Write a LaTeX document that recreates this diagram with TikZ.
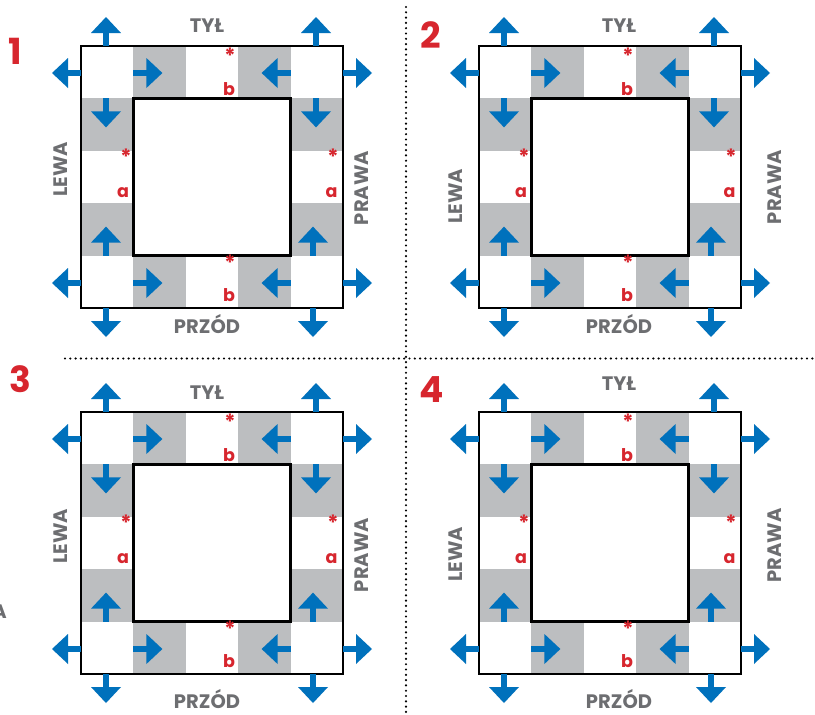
\documentclass[tikz,border=0pt]{standalone}
\usepackage{fontspec}
\setmainfont{Poppins}
\definecolor{arrblue}{HTML}{0071BC}
\definecolor{cellgray}{HTML}{BCBEC0}
\definecolor{txtgray}{HTML}{6D6E71}
\definecolor{numred}{HTML}{D7262E}
\tikzset{
  arrR/.pic={\fill[arrblue] (0,-3) rectangle (13.5,3); \fill[arrblue] (13,-15) -- (29,0) -- (13,15) -- cycle;},
  arrL/.pic={\fill[arrblue] (0,-3) rectangle (-13.5,3); \fill[arrblue] (-13,-15) -- (-29,0) -- (-13,15) -- cycle;},
  arrU/.pic={\fill[arrblue] (-3,0) rectangle (3,-13.5); \fill[arrblue] (-15,-13) -- (0,-29) -- (15,-13) -- cycle;},
  arrD/.pic={\fill[arrblue] (-3,0) rectangle (3,13.5); \fill[arrblue] (-15,13) -- (0,29) -- (15,13) -- cycle;},
  side/.style={text=txtgray, font=\fontsize{19.5}{19.5}\selectfont\bfseries, inner sep=0pt},
  lbl/.style={text=numred, font=\fontsize{17.5}{17.5}\selectfont\bfseries, inner sep=0pt},
  star/.style={text=numred, font=\fontsize{21}{21}\selectfont\bfseries, inner sep=0pt},
  num/.style={text=numred, font=\fontsize{36}{36}\selectfont\bfseries, inner sep=0pt},
  frame/.style={draw=black, line width=2.5pt},
  dotline/.style={draw=black, line width=2.4pt, line cap=round, dash pattern=on 0pt off 5.3pt},
}
\newcommand\drawpanel[2]{%
\begin{scope}[shift={#1}]
  \fill[white] (0,0) rectangle (262,262);
  \fill[cellgray] (52.4,0) rectangle (104.8,52.4);
  \fill[cellgray] (157.2,0) rectangle (209.6,52.4);
  \fill[cellgray] (52.4,209.6) rectangle (104.8,262);
  \fill[cellgray] (157.2,209.6) rectangle (209.6,262);
  \fill[cellgray] (0,52.4) rectangle (52.4,104.8);
  \fill[cellgray] (0,157.2) rectangle (52.4,209.6);
  \fill[cellgray] (209.6,52.4) rectangle (262,104.8);
  \fill[cellgray] (209.6,157.2) rectangle (262,209.6);
  % inner arrows
  \pic at (52.4,27) {arrR};
  \pic at (209.6,27) {arrL};
  \pic at (52.4,237) {arrR};
  \pic at (209.6,237) {arrL};
  \pic at (25,52.4) {arrD};
  \pic at (25,209.6) {arrU};
  \pic at (235,52.4) {arrD};
  \pic at (232,209.6) {arrU};
  % squares
  \filldraw[frame, fill=white] (52.4,52.4) rectangle (209.6,209.6);
  \draw[frame] (0,0) rectangle (262,262);
  % outer arrows
  \pic at (0,27) {arrL};
  \pic at (25,0) {arrU};
  \pic at (262,27) {arrR};
  \pic at (235,0) {arrU};
  \pic at (0,237) {arrL};
  \pic at (25,262) {arrD};
  \pic at (262,237) {arrR};
  \pic at (232,262) {arrD};
  % labels
  \node[star] (#2-st) at (149,10) {*};
  \node[lbl] (#2-bt) at (148,43.5) {b};
  \node[star] (#2-sl) at (45,111) {*};
  \node[lbl] (#2-al) at (42,147) {a};
  \node[star] (#2-sr) at (252,111) {*};
  \node[lbl] (#2-ar) at (250.5,147) {a};
  \node[star] (#2-sb) at (149,217) {*};
  \node[lbl] (#2-bb) at (148,249) {b};
\end{scope}}
\begin{document}
\begin{tikzpicture}[x=1pt,y=-1pt]
\useasboundingbox (0,0) rectangle (815,715);
\fill[white] (0,0) rectangle (815,715);
% dotted separators
\coordinate (vt) at (406,7);
\coordinate (vb) at (406,715);
\coordinate (hl) at (65,358.5);
\coordinate (hr) at (815,358.5);
\draw[dotline] (vt) -- (vb);
\draw[dotline] (hl) -- (hr);
% panels
\drawpanel{(81,46)}{p1}
\drawpanel{(479,46)}{p2}
\drawpanel{(81,412)}{p3}
\drawpanel{(479,412)}{p4}
% numbers
\node[num] (n1) at (15,51) {1};
\node[num] (n2) at (431,35) {2};
\node[num] (n3) at (20,379) {3};
\node[num] (n4) at (432,390) {4};
% side names
\node[side, anchor=base] (t1) at (207,32.5) {TYŁ};
\node[side, anchor=base] (f1) at (207,333.5) {PRZÓD};
\node[side, rotate=90] (l1) at (61,169) {LEWA};
\node[side, rotate=90] (r1) at (362,188) {PRAWA};
\node[side, anchor=base] (t2) at (619,32.5) {TYŁ};
\node[side, anchor=base] (f2) at (619,333.5) {PRZÓD};
\node[side, rotate=90] (l2) at (455.5,196) {LEWA};
\node[side, rotate=90] (r2) at (774.5,187) {PRAWA};
\node[side, anchor=base] (t3) at (207,399.5) {TYŁ};
\node[side, anchor=base] (f3) at (207,708.5) {PRZÓD};
\node[side, rotate=90] (l3) at (61,536) {LEWA};
\node[side, rotate=90] (r3) at (362,555) {PRAWA};
\node[side, anchor=base] (t4) at (619,390.5) {TYŁ};
\node[side, anchor=base] (f4) at (619,708.5) {PRZÓD};
\node[side, rotate=90] (l4) at (455.5,554) {LEWA};
\node[side, rotate=90] (r4) at (774.5,545.5) {PRAWA};
% cut-off letter at the left edge
\node[side, anchor=base east] (stray) at (7,618) {A};
\end{tikzpicture}
\end{document}
